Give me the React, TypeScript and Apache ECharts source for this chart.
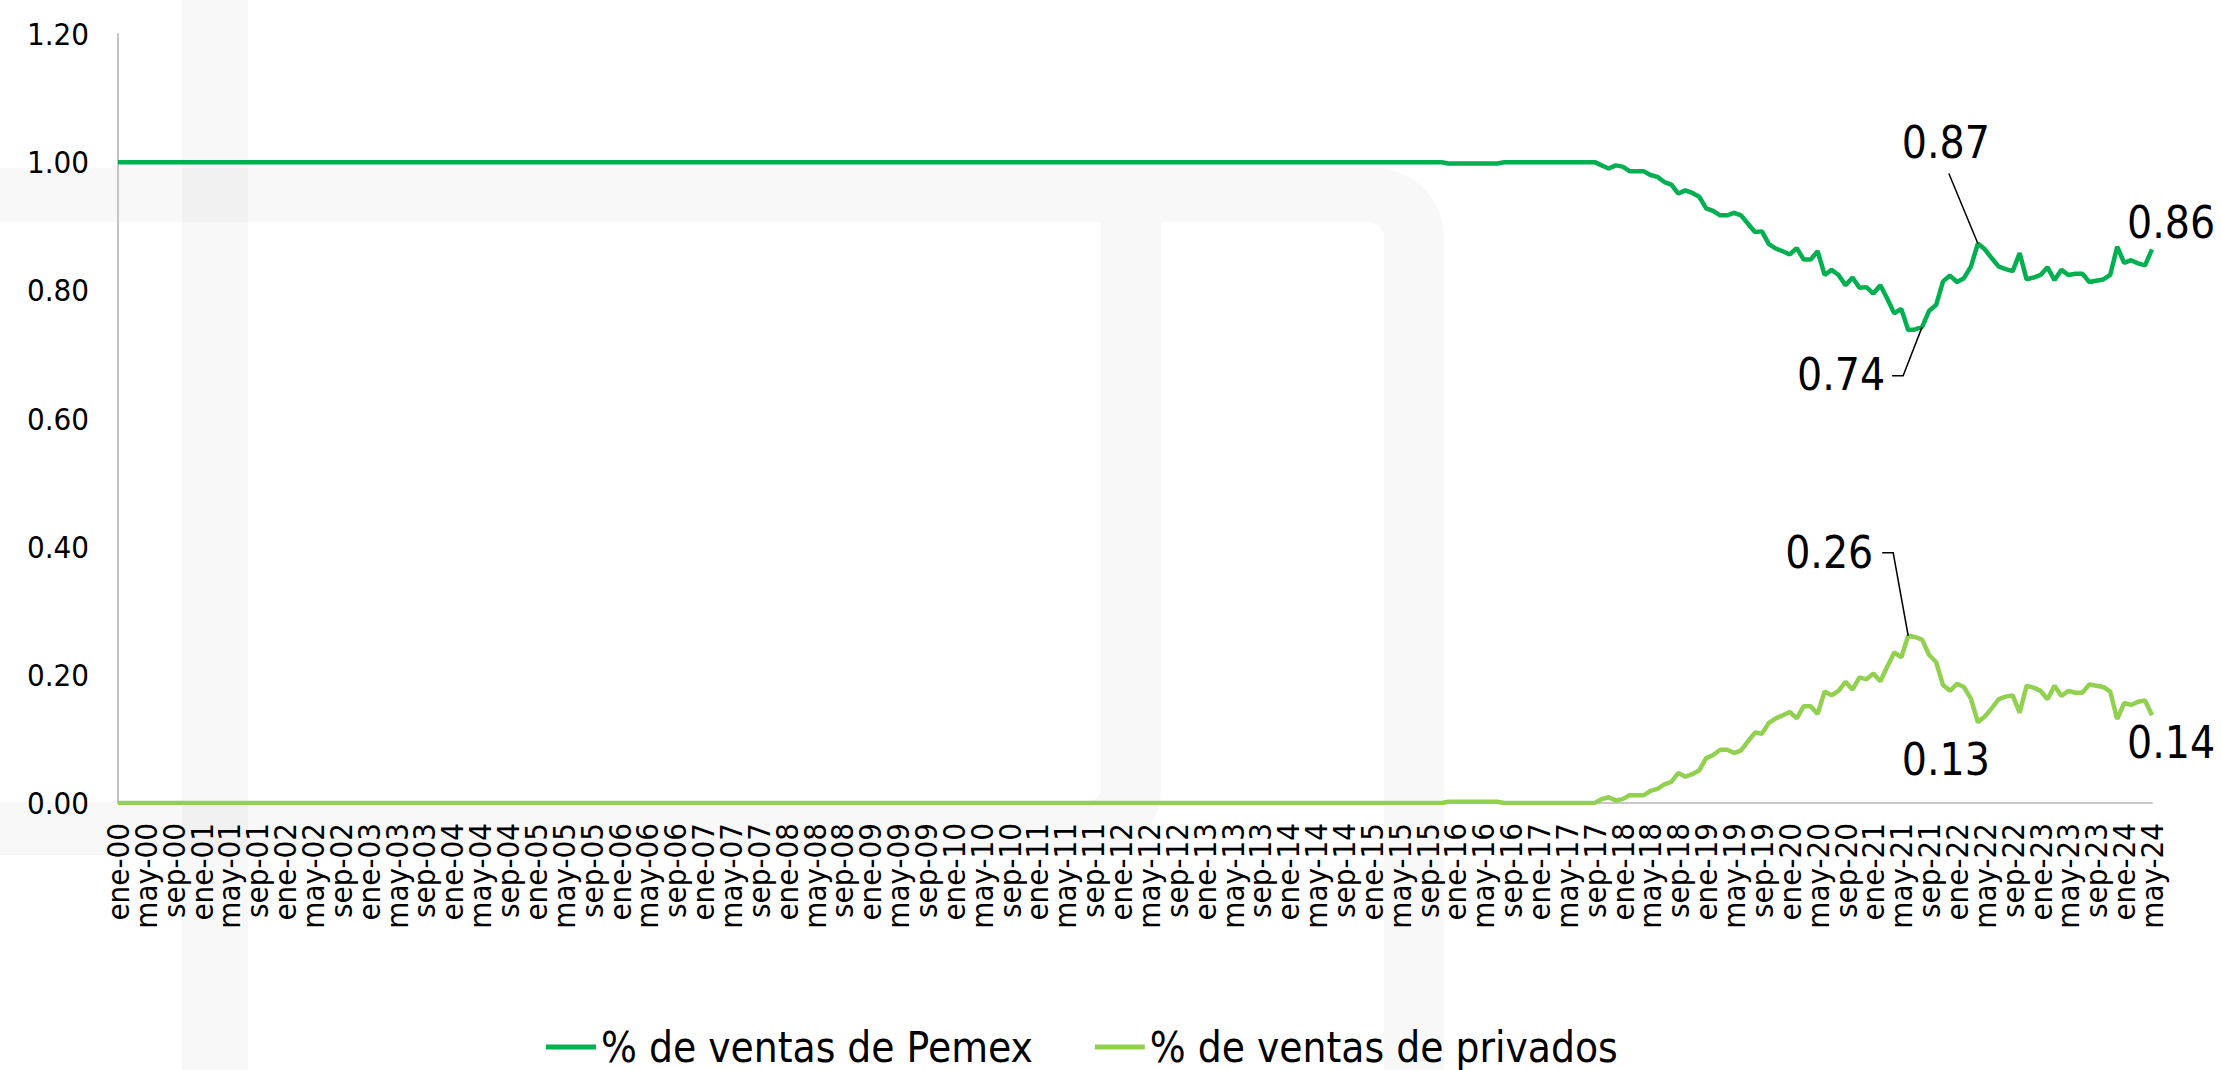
import React, { useEffect, useRef } from "react";
import * as echarts from "echarts";

// ---- data ----
const monthNames = ["ene", "feb", "mar", "abr", "may", "jun", "jul", "ago", "sep", "oct", "nov", "dic"];
const startYear = 2000;
const endYear = 2024;
const endMonthIndex = 4; // may-24
const labelEvery = 4; // a tick label every 4 months

const seriesNames = ["% de ventas de Pemex", "% de ventas de privados"];

// monthly share, ene-00 .. may-24 (one row per year)
const pemex: number[] = [
  1, 1, 1, 1, 1, 1, 1, 1, 1, 1, 1, 1, // 2000
  1, 1, 1, 1, 1, 1, 1, 1, 1, 1, 1, 1, // 2001
  1, 1, 1, 1, 1, 1, 1, 1, 1, 1, 1, 1, // 2002
  1, 1, 1, 1, 1, 1, 1, 1, 1, 1, 1, 1, // 2003
  1, 1, 1, 1, 1, 1, 1, 1, 1, 1, 1, 1, // 2004
  1, 1, 1, 1, 1, 1, 1, 1, 1, 1, 1, 1, // 2005
  1, 1, 1, 1, 1, 1, 1, 1, 1, 1, 1, 1, // 2006
  1, 1, 1, 1, 1, 1, 1, 1, 1, 1, 1, 1, // 2007
  1, 1, 1, 1, 1, 1, 1, 1, 1, 1, 1, 1, // 2008
  1, 1, 1, 1, 1, 1, 1, 1, 1, 1, 1, 1, // 2009
  1, 1, 1, 1, 1, 1, 1, 1, 1, 1, 1, 1, // 2010
  1, 1, 1, 1, 1, 1, 1, 1, 1, 1, 1, 1, // 2011
  1, 1, 1, 1, 1, 1, 1, 1, 1, 1, 1, 1, // 2012
  1, 1, 1, 1, 1, 1, 1, 1, 1, 1, 1, 1, // 2013
  1, 1, 1, 1, 1, 1, 1, 1, 1, 1, 1, 1, // 2014
  1, 1, 1, 1, 1, 1, 1, 1, 1, 1, 1, 0.998, // 2015
  0.998, 0.998, 0.998, 0.998, 0.998, 0.998, 0.998, 1, 1, 1, 1, 1, // 2016
  1, 1, 1, 1, 1, 1, 1, 1, 1, 0.995, 0.990, 0.995, // 2017
  0.993, 0.986, 0.986, 0.986, 0.980, 0.977, 0.969, 0.965, 0.951, 0.956, 0.952, 0.946, // 2018
  0.928, 0.924, 0.917, 0.917, 0.921, 0.917, 0.904, 0.891, 0.892, 0.872, 0.865, 0.861, // 2019
  0.856, 0.866, 0.848, 0.848, 0.861, 0.824, 0.832, 0.824, 0.808, 0.820, 0.804, 0.805, // 2020
  0.795, 0.808, 0.787, 0.764, 0.771, 0.738, 0.739, 0.743, 0.768, 0.777, 0.814, 0.823, // 2021
  0.813, 0.819, 0.837, 0.873, 0.864, 0.850, 0.837, 0.833, 0.830, 0.858, 0.817, 0.820, // 2022
  0.824, 0.836, 0.816, 0.832, 0.824, 0.826, 0.826, 0.813, 0.815, 0.817, 0.824, 0.868, // 2023
  0.843, 0.847, 0.842, 0.839, 0.864, // 2024
];

const privados: number[] = [
  0, 0, 0, 0, 0, 0, 0, 0, 0, 0, 0, 0, // 2000
  0, 0, 0, 0, 0, 0, 0, 0, 0, 0, 0, 0, // 2001
  0, 0, 0, 0, 0, 0, 0, 0, 0, 0, 0, 0, // 2002
  0, 0, 0, 0, 0, 0, 0, 0, 0, 0, 0, 0, // 2003
  0, 0, 0, 0, 0, 0, 0, 0, 0, 0, 0, 0, // 2004
  0, 0, 0, 0, 0, 0, 0, 0, 0, 0, 0, 0, // 2005
  0, 0, 0, 0, 0, 0, 0, 0, 0, 0, 0, 0, // 2006
  0, 0, 0, 0, 0, 0, 0, 0, 0, 0, 0, 0, // 2007
  0, 0, 0, 0, 0, 0, 0, 0, 0, 0, 0, 0, // 2008
  0, 0, 0, 0, 0, 0, 0, 0, 0, 0, 0, 0, // 2009
  0, 0, 0, 0, 0, 0, 0, 0, 0, 0, 0, 0, // 2010
  0, 0, 0, 0, 0, 0, 0, 0, 0, 0, 0, 0, // 2011
  0, 0, 0, 0, 0, 0, 0, 0, 0, 0, 0, 0, // 2012
  0, 0, 0, 0, 0, 0, 0, 0, 0, 0, 0, 0, // 2013
  0, 0, 0, 0, 0, 0, 0, 0, 0, 0, 0, 0, // 2014
  0, 0, 0, 0, 0, 0, 0, 0, 0, 0, 0, 0.002, // 2015
  0.002, 0.002, 0.002, 0.002, 0.002, 0.002, 0.002, 0, 0, 0, 0, 0, // 2016
  0, 0, 0, 0, 0, 0, 0, 0, 0, 0.006, 0.009, 0.004, // 2017
  0.006, 0.012, 0.012, 0.012, 0.019, 0.022, 0.029, 0.033, 0.047, 0.041, 0.045, 0.051, // 2018
  0.070, 0.075, 0.083, 0.083, 0.078, 0.082, 0.096, 0.110, 0.108, 0.125, 0.132, 0.137, // 2019
  0.142, 0.132, 0.151, 0.151, 0.139, 0.174, 0.168, 0.175, 0.189, 0.177, 0.196, 0.193, // 2020
  0.202, 0.190, 0.213, 0.235, 0.227, 0.261, 0.259, 0.255, 0.231, 0.220, 0.184, 0.175, // 2021
  0.186, 0.181, 0.163, 0.126, 0.135, 0.148, 0.162, 0.166, 0.168, 0.141, 0.183, 0.180, // 2022
  0.175, 0.162, 0.183, 0.167, 0.175, 0.172, 0.172, 0.185, 0.183, 0.181, 0.174, 0.131, // 2023
  0.156, 0.153, 0.158, 0.160, 0.137, // 2024
];

// indices of the annotated points
const pemexAnnotated = [267, 259, 292];
const privadosAnnotated = [257, 267, 292];

const yMin = 0;
const yMax = 1.2;
const yStep = 0.2;

// ---- layout / style (not data) ----
const FONT = "'DejaVu Sans Condensed', 'Noto Sans', sans-serif";
const PEMEX_COLOR = "#00b050";
const PRIV_COLOR = "#92d050";
const WM = "#f8f8f8";
const WM2 = "#f1f1f1";

// label centre offsets and leader polylines relative to the data point (px)
const pemexLabelStyle: Record<number, { off: [number, number]; leader?: [number, number][] }> = {
  267: { off: [-32, -101], leader: [[0, 0], [-29, -70]] },
  259: { off: [-81, 48], leader: [[0, 0], [-19, 49], [-30, 49]] },
  292: { off: [19, -27] },
};
const privLabelStyle: Record<number, { off: [number, number]; leader?: [number, number][] }> = {
  257: { off: [-79, -83], leader: [[0, 0], [-15, -83], [-26, -83]] },
  267: { off: [-32, 37] },
  292: { off: [19, 27] },
};

let shapesRegistered = false;
function registerShapes() {
  if (shapesRegistered) return;
  shapesRegistered = true;
  echarts.graphic.registerShape(
    "wmTop",
    echarts.graphic.extendPath(
      "M0 168 H1374 A70 70 0 0 1 1444 238 V1070 H1384 V237 A15 15 0 0 0 1369 222 H0 Z",
      {}
    )
  );
  echarts.graphic.registerShape(
    "wmMid",
    echarts.graphic.extendPath(
      "M1101 222 H1161 V790 A65 65 0 0 1 1096 855 H0 V802 H1086 A15 15 0 0 0 1101 787 Z",
      {}
    )
  );
}

function buildCategories(): string[] {
  const out: string[] = [];
  for (let y = startYear; y <= endYear; y++) {
    const last = y === endYear ? endMonthIndex : 11;
    for (let m = 0; m <= last; m++) {
      out.push(`${monthNames[m]}-${String(y % 100).padStart(2, "0")}`);
    }
  }
  return out;
}

export default function App() {
  const ref = useRef<HTMLDivElement>(null);

  useEffect(() => {
    if (!ref.current) return;
    registerShapes();
    const chart = echarts.init(ref.current, undefined, { renderer: "svg" });
    const categories = buildCategories();

    const mkPoints = (values: number[], idxs: number[], styles: typeof pemexLabelStyle) =>
      idxs.map((i) => ({
        coord: [i, values[i]],
        value: values[i].toFixed(2),
        label: { offset: styles[i].off },
      }));

    const markPointBase = {
      symbol: "circle",
      symbolSize: 1,
      itemStyle: { color: "rgba(0,0,0,0)" },
      silent: true,
      animation: false,
      label: {
        show: true,
        position: "inside",
        formatter: "{c}",
        color: "#000",
        fontSize: 44,
        fontFamily: FONT,
        align: "center",
        verticalAlign: "middle",
      },
    };

    const option: any = {
      animation: false,
      grid: { left: 118, right: 70, top: 34, bottom: 267, containLabel: false },
      legend: {
        data: seriesNames,
        left: 541,
        top: 1021,
        icon: "rect",
        itemWidth: 50,
        itemHeight: 5,
        itemGap: 62,
        textStyle: { fontSize: 42, color: "#000", fontFamily: FONT },
      },
      xAxis: {
        type: "category",
        data: categories,
        boundaryGap: false,
        axisLine: { show: true, lineStyle: { color: "#c8c8c8", width: 2 } },
        axisTick: { show: false },
        axisLabel: {
          interval: 0,
          rotate: 90,
          fontSize: 31,
          color: "#000",
          fontFamily: FONT,
          margin: 20,
          hideOverlap: false,
          formatter: (value: string, index: number) => (index % labelEvery === 0 ? value : ""),
        },
        splitLine: { show: false },
      },
      yAxis: {
        type: "value",
        min: yMin,
        max: yMax,
        interval: yStep,
        axisLine: { show: true, lineStyle: { color: "#c4c4c4", width: 2 } },
        axisTick: { show: false },
        splitLine: { show: false },
        axisLabel: {
          fontSize: 31,
          color: "#000",
          fontFamily: FONT,
          margin: 29,
          formatter: (v: number) => v.toFixed(2),
        },
      },
      series: [
        {
          name: seriesNames[0],
          type: "line",
          data: pemex,
          showSymbol: false,
          symbol: "none",
          lineStyle: { color: PEMEX_COLOR, width: 4.5 },
          itemStyle: { color: PEMEX_COLOR },
          z: 3,
          markPoint: { ...markPointBase, data: mkPoints(pemex, pemexAnnotated, pemexLabelStyle) },
        },
        {
          name: seriesNames[1],
          type: "line",
          data: privados,
          showSymbol: false,
          symbol: "none",
          lineStyle: { color: PRIV_COLOR, width: 4.5 },
          itemStyle: { color: PRIV_COLOR },
          z: 3,
          markPoint: { ...markPointBase, data: mkPoints(privados, privadosAnnotated, privLabelStyle) },
        },
      ],
    };

    chart.setOption(option);

    // leader lines, anchored on the data points through the chart's own scales
    const leaders: any[] = [];
    const addLeaders = (si: number, values: number[], idxs: number[], styles: typeof pemexLabelStyle) => {
      idxs.forEach((i) => {
        const st = styles[i];
        if (!st.leader) return;
        const p = chart.convertToPixel({ seriesIndex: si }, [i, values[i]]) as number[];
        leaders.push({
          type: "polyline",
          silent: true,
          z: 10,
          shape: { points: st.leader.map(([dx, dy]) => [p[0] + dx, p[1] + dy]) },
          style: { stroke: "#000", lineWidth: 1.5, fill: null },
        });
      });
    };
    addLeaders(0, pemex, pemexAnnotated, pemexLabelStyle);
    addLeaders(1, privados, privadosAnnotated, privLabelStyle);

    const watermark: any[] = [
      { type: "wmTop", x: 0, y: 0, silent: true, z: -10, style: { fill: WM } },
      { type: "wmMid", x: 0, y: 0, silent: true, z: -10, style: { fill: WM } },
      { type: "rect", silent: true, z: -10, shape: { x: 182, y: 0, width: 66, height: 1070 }, style: { fill: WM } },
      { type: "rect", silent: true, z: -9, shape: { x: 182, y: 168, width: 66, height: 54 }, style: { fill: WM2 } },
      { type: "rect", silent: true, z: -9, shape: { x: 182, y: 802, width: 66, height: 53 }, style: { fill: WM2 } },
    ];

    chart.setOption({ graphic: { elements: [...watermark, ...leaders] } });

    return () => chart.dispose();
  }, []);

  return (
    <div
      ref={ref}
      style={{ position: "fixed", left: 0, top: 0, width: 2222, height: 1070, background: "#fff" }}
    />
  );
}
